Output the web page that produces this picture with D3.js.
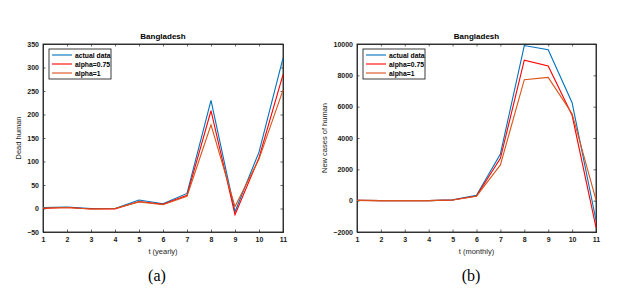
<!DOCTYPE html>
<html><head><meta charset="utf-8">
<script src="https://cdn.jsdelivr.net/npm/d3@7"></script>
<style>body{margin:0;background:#fff}svg{display:block}</style>
</head><body>
<svg id="c" width="631" height="291"></svg>
<script>
const tValues = [1,2,3,4,5,6,7,8,9,10,11];
const seriesNames = ["actual data","alpha=0.75","alpha=1"];
const seriesColors = ["#0072BD","#FF0000","#D95319"];
// Panel (a): dead human, yearly
const deadActual = [2,3,0,0,18,10,32,230,-7,120,320];
const deadAlpha075 = [0,2,-1,-1,15,9,28,208,-13,108,285];
const deadAlpha1 = [1,2,-1,0,14,8,26,178,4,105,252];
const deadTicks = [-50,0,50,100,150,200,250,300,350];
// Panel (b): new cases, monthly
const casesActual = [30,0,0,0,50,340,2980,9900,9630,6250,-1250];
const casesAlpha075 = [20,0,0,0,40,300,2700,8970,8600,5450,-1700];
const casesAlpha1 = [20,0,0,0,40,280,2280,7720,7870,5550,50];
const casesTicks = [-2000,0,2000,4000,6000,8000,10000];

const svg = d3.select("#c");
const font = "Liberation Sans, Arial, Helvetica, sans-serif";

function panel(o){
  const g = svg.append("g");
  const x = d3.scaleLinear().domain([1,11]).range([o.x0,o.x1]);
  const y = d3.scaleLinear().domain(o.ydom).range([o.y1,o.y0]);
  g.append("rect").attr("x",o.x0).attr("y",o.y0).attr("width",o.x1-o.x0).attr("height",o.y1-o.y0)
   .attr("fill","#fff").attr("stroke","#262626").attr("stroke-width",0.9);
  const tl = 2.5;
  const ax = [
    [d3.axisBottom(x).tickValues(tValues).tickSize(-tl).tickPadding(5).tickFormat(d3.format("d")), `translate(0,${o.y1})`],
    [d3.axisTop(x).tickValues(tValues).tickSize(-tl).tickFormat(""), `translate(0,${o.y0})`],
    [d3.axisLeft(y).tickValues(o.yticks).tickSize(-tl).tickPadding(4).tickFormat(d3.format("d")), `translate(${o.x0},0)`],
    [d3.axisRight(y).tickValues(o.yticks).tickSize(-tl).tickFormat(""), `translate(${o.x1},0)`]
  ];
  ax.forEach(([a,tr])=>{
    const s = g.append("g").attr("transform",tr).call(a);
    s.select(".domain").attr("stroke","#262626").attr("stroke-width",0.9);
    s.selectAll(".tick line").attr("stroke","#262626").attr("stroke-width",0.7);
    s.selectAll("text").attr("font-family",font).attr("font-size",7).attr("font-weight","bold").attr("fill","#1a1a1a");
  });
  const line = d3.line().x((d,i)=>x(tValues[i])).y(d=>y(d));
  o.series.forEach((s,i)=>{
    g.append("path").datum(s).attr("d",line).attr("fill","none")
     .attr("stroke",seriesColors[i]).attr("stroke-width",1.1).attr("stroke-linejoin","miter");
  });
  g.append("text").attr("x",(o.x0+o.x1)/2).attr("y",o.y0-5).attr("text-anchor","middle")
   .attr("font-family",font).attr("font-size",8).attr("font-weight","bold").attr("fill","#000").text("Bangladesh");
  g.append("text").attr("x",(o.x0+o.x1)/2).attr("y",o.y1+22).attr("text-anchor","middle")
   .attr("font-family",font).attr("font-size",7.5).attr("fill","#262626").text(o.xlabel);
  g.append("text").attr("transform",`translate(${o.ylx},${(o.y0+o.y1)/2}) rotate(-90)`).attr("text-anchor","middle")
   .attr("font-family",font).attr("font-size",7.5).attr("fill","#262626").text(o.ylabel);
  g.append("text").attr("x",o.capx).attr("y",281).attr("text-anchor","middle")
   .attr("font-family","Liberation Serif, Times New Roman, serif").attr("font-size",16).attr("fill","#000").text(o.cap);
  const lg = g.append("g");
  lg.append("rect").attr("x",o.x0+6).attr("y",o.y0+5).attr("width",62).attr("height",30)
   .attr("fill","#fff").attr("stroke","#262626").attr("stroke-width",0.9);
  seriesNames.forEach((n,i)=>{
    const yy = o.y0+11+i*9;
    lg.append("line").attr("x1",o.x0+9).attr("x2",o.x0+29).attr("y1",yy).attr("y2",yy)
      .attr("stroke",seriesColors[i]).attr("stroke-width",1.1);
    lg.append("text").attr("x",o.x0+32).attr("y",yy+2.5).attr("font-family",font).attr("font-size",6.8)
      .attr("font-weight","bold").attr("fill","#000").text(n);
  });
}

panel({x0:43,x1:283,y0:44,y1:232,ydom:[-50,350],yticks:deadTicks,
  series:[deadActual,deadAlpha075,deadAlpha1],xlabel:"t (yearly)",ylabel:"Dead human",ylx:21,capx:157,cap:"(a)"});
panel({x0:357,x1:596,y0:44,y1:232,ydom:[-2000,10000],yticks:casesTicks,
  series:[casesActual,casesAlpha075,casesAlpha1],xlabel:"t (monthly)",ylabel:"New cases of human",ylx:327,capx:471,cap:"(b)"});
</script>
</body></html>
